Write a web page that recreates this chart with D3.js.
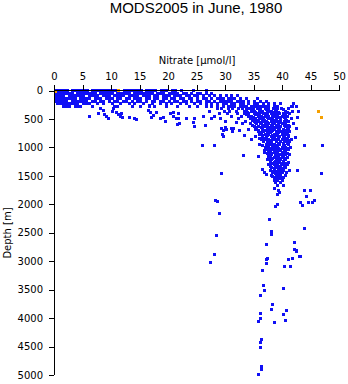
<!DOCTYPE html>
<html><head><meta charset="utf-8">
<script src="https://cdn.jsdelivr.net/npm/d3@7"></script>
<style>
html,body{margin:0;padding:0;background:#fff;}
svg{display:block;}
text{fill:#000;}
</style></head>
<body>
<svg id="c" width="348" height="384"></svg>
<script>
// ---- data ----
const title = "MODS2005 in June, 1980";
const xLabel = "Nitrate [\u00b5mol/l]";
const yLabel = "Depth [m]";
const xTicks = [0,5,10,15,20,25,30,35,40,45,50];
const yTicks = [0,500,1000,1500,2000,2500,3000,3500,4000,4500,5000];

// surface band: [depth, nitrate values]
const surfaceRows = [
 [5,[0.3,0.8,1.3,1.8,2.3,3.3,3.8,4.3,4.8,5.3,5.8,6.8,7.3,7.8,8.3,8.8,9.3,9.8,10.3,10.8,12.3,12.8,13.3,13.8,14.3,14.8,15.3,16.3,16.8,17.3,17.8,18.8,19.3,19.8,20.8,21.3,22.3,24.5,26.8]],
 [50,[0.2,0.7,1.2,1.7,2.2,2.7,3.2,4.2,4.7,5.2,5.7,6.2,6.7,7.2,8.2,8.7,9.2,9.7,10.2,11.2,11.7,12.2,12.7,13.2,14.2,14.7,15.2,15.7,16.2,16.7,17.2,18.2,18.7,19.2,20.2,20.7,21.2,21.7,22.7,23.2,24.2,25.2,25.7,26.7,27.7]],
 [95,[0.2,0.7,1.2,1.7,2.7,3.2,3.7,4.2,4.7,5.2,6.2,6.7,7.2,7.7,8.7,9.2,9.7,10.7,11.2,11.7,12.2,13.2,13.7,14.2,14.7,15.7,16.2,16.7,17.7,18.2,19.2,19.7,20.2,21.2,21.7,22.2,23.2,23.7,24.7,25.2,26.2,27.2,28.2,29.2,30.2,31.2,32.2]],
 [140,[0.2,0.7,1.2,1.7,2.2,2.7,3.2,3.7,4.7,5.2,5.7,6.2,7.2,7.7,8.2,9.2,9.7,10.2,11.2,11.7,12.7,13.2,14.2,14.7,15.2,16.2,16.7,17.7,18.2,19.2,19.7,20.7,21.2,22.2,22.7,23.7,24.2,25.2,26.2,26.7,27.7,28.7,29.2,29.7,30.7,31.2,31.7,32.7,33.7,35.7]],
 [185,[0.2,0.7,1.2,1.7,2.2,3.2,3.7,4.2,4.7,5.2,5.7,6.7,7.2,8.2,8.7,9.7,10.7,11.2,12.2,12.7,13.7,14.7,15.2,16.2,17.2,17.7,18.7,19.2,20.2,21.2,21.7,22.7,23.2,24.2,25.2,25.7,26.7,27.2,28.2,29.2,29.7,30.2,30.7,31.2,32.2,32.7,33.2,34.2,35.2,36.2,37.2]],
 [230,[0.7,1.2,1.7,2.2,2.7,3.2,3.7,4.2,5.2,5.7,6.2,7.7,8.7,10.2,11.7,13.2,14.2,15.7,17.2,18.7,19.7,20.7,22.2,23.2,24.7,25.7,26.7,27.7,28.7,29.7,30.2,31.2,31.7,32.7,33.2,34.2,35.2,35.7,36.7,37.7,38.7,39.7,42.0]],
 [275,[1.7,2.2,2.7,3.7,4.2,4.7,6.7,10.7,11.2,13.7,15.2,16.7,17.7,19.7,21.7,23.7,25.2,26.7,27.7,28.7,29.7,30.7,31.2,31.7,32.7,33.2,33.7,34.7,35.2,35.7,36.2,36.7,37.2,37.7,38.7,39.2,41.8,42.6]]
];

// main deep-water column: [depth, nitrate values]
const columnRows = [
 [318,[28.6,29.4,30.6,31.3,32.4,33.1,34.1,34.6,35.7,36.2,37.1,37.6,38.5,39.2,39.9,41.1]],
 [340,[33.8,35.0,36.0,37.3,38.9,40.2]],
 [362,[27.2,29.9,30.8,32.1,33.4,34.6,35.2,36.1,36.6,37.7,38.1,39.1,40.6,41.9]],
 [385,[34.0,35.4,36.4,37.4,38.6,39.4,40.9]],
 [405,[29.1,30.4,32.2,33.5,34.1,35.1,35.6,36.7,37.2,38.2,38.7,39.6,40.2,41.4]],
 [430,[33.8,35.4,36.0,37.4,38.4,39.0,40.6]],
 [452,[28.1,31.2,32.9,34.2,34.7,35.8,36.4,37.1,37.6,38.7,39.2,40.1,40.9]],
 [475,[35.0,36.8,37.4,38.4,39.6,40.4]],
 [497,[29.2,32.4,34.4,35.4,36.1,36.6,37.7,38.2,39.1,39.7,40.7,41.6]],
 [520,[34.8,35.8,37.0,38.6,39.8,40.8]],
 [541,[30.1,33.6,35.1,35.7,36.6,37.2,38.1,39.0,39.4,40.4,41.1]],
 [565,[35.4,36.4,37.4,38.4,39.8,40.6]],
 [588,[33.1,34.4,35.6,36.2,37.1,37.7,38.6,39.4,40.1,40.7,42.1]],
 [610,[34.9,36.6,37.4,38.2,39.2,40.4,41.2]],
 [633,[35.1,35.9,36.9,37.4,38.4,39.1,39.7,40.6,41.4]],
 [655,[35.6,36.4,37.9,38.8,39.4,40.9]],
 [679,[34.1,35.4,36.6,37.4,38.1,38.7,39.6,40.2,41.1]],
 [700,[35.8,36.9,37.8,38.4,39.4,40.6]],
 [722,[35.9,36.7,37.6,38.2,39.1,39.7,40.6,41.4]],
 [745,[36.4,37.4,38.0,39.4,40.2,41.0]],
 [768,[36.1,37.1,37.7,38.6,39.2,40.1,40.7]],
 [790,[36.6,37.4,38.3,39.0,40.4,41.2]],
 [812,[35.4,36.6,37.2,38.1,38.7,39.6,40.2,41.2]],
 [835,[36.0,36.9,38.4,39.4,40.6]],
 [858,[36.4,37.1,37.7,38.6,39.2,40.1,40.9,41.6]],
 [880,[36.8,37.4,38.2,39.0,40.4,41.2]],
 [903,[36.7,37.6,38.2,39.1,39.7,40.6,41.4]],
 [925,[37.4,38.0,39.4,40.2,40.9]],
 [948,[36.1,37.2,38.1,38.7,39.6,40.2,41.1]],
 [970,[36.6,37.6,38.4,39.0,40.4]],
 [993,[37.1,37.7,38.6,39.2,40.1,40.7,41.5]],
 [1015,[37.6,38.2,39.4,40.2,41.0]],
 [1038,[37.4,38.4,39.1,39.7,40.6,41.2]],
 [1060,[37.0,38.0,38.8,39.5,40.4]],
 [1083,[36.9,37.7,38.6,39.2,40.1,40.7]],
 [1105,[37.4,38.2,39.0,40.3,41.0]],
 [1128,[37.6,38.2,39.1,39.7,40.6,41.4]],
 [1150,[38.0,38.9,39.4,40.3]],
 [1174,[37.7,38.6,39.2,40.1,40.9]],
 [1196,[37.9,38.4,39.5,40.4]],
 [1218,[37.4,38.2,39.1,39.7,40.6]],
 [1240,[38.0,38.9,39.4,40.3]],
 [1263,[37.9,38.7,39.6,40.2,41.2]],
 [1285,[38.2,39.0,39.9,40.6]],
 [1308,[37.7,38.6,39.2,40.1,40.9]],
 [1330,[38.0,38.8,39.5,40.4]],
 [1353,[38.2,39.1,39.7,40.6]],
 [1375,[38.6,39.4,40.0]],
 [1398,[37.9,38.7,39.6,40.2,41.3]],
 [1420,[38.4,39.0,39.8]],
 [1443,[38.4,39.2,40.1,40.8]],
 [1465,[38.8,39.6]],
 [1488,[38.2,39.1,39.7,40.7]],
 [1510,[38.4,39.4]],
 [1533,[38.7,39.6,40.3]],
 [1555,[39.0,39.8]],
 [1578,[38.6,39.2,40.1]],
 [1600,[38.8]],
 [1623,[38.9,39.7]],
 [1668,[39.2,40.2]],
 [1715,[38.7]]
];

// scattered intermediate points [nitrate, depth]
const midPoints = [
 [6.2,452],[7.8,410],[8.1,313],[8.7,352],[8.9,422],[9.2,452],[9.5,487],[10.4,322],[10.2,374],[11.0,392],[11.3,422],[11.9,410],[11.6,452],[12.1,480],[13.3,480],[14.2,498],[14.5,510],[16.5,352],[16.8,264],[17.0,380],[17.5,434],[18.0,392],[17.1,470],[18.6,487],[19.2,480],[19.5,540],[20.4,410],[20.9,393],[20.9,463],[21.5,492],[21.8,410],[21.8,498],[21.7,597],[22.1,586],[23.3,487],[24.7,487],[26.2,452],[24.4,569],[27.7,487],[24.7,640],[26.5,616],[29.4,663],[30.0,646],[31.5,663],[32.0,569],[29.7,698],[30.3,681],[31.1,674],[31.3,727],[32.6,698],[33.4,786],[29.6,775],[29.7,815],[34.6,857],[26.0,968],[28.2,968],[33.2,1144],[35.8,1167],[29.4,1455],[36.5,1390],[36.9,1438],[37.3,1479],[42.6,276],[41.7,276],[42.9,364],[42.8,480],[42.6,669],[41.1,803],[42.3,832],[43.9,968],[47.1,968],[42.8,1403],[47.0,1467]
];

// deep points [nitrate, depth]
const deepPoints = [
 [39.4,1761],[39.6,1790],[39.2,1836],[43.9,1761],[44.3,1860],[45.0,1761],[45.7,1937],[45.3,1977],[44.7,1977],[43.3,1977],[43.6,2025],[39.2,1995],[38.9,2036],[37.8,2271],[38.2,2477],[38.1,2523],[43.9,2430],[42.2,2664],[37.2,2711],[42.2,2799],[42.6,2822],[43.1,2910],[37.4,2958],[28.4,1931],[28.7,1948],[29.0,2153],[28.5,2541],[28.1,2875],[27.4,3016],[42.6,2817],[37.3,2963],[37.3,3034],[41.1,2963],[41.8,2946],[43.2,2910],[40.4,3087],[41.5,3093],[36.5,3157],[36.7,3433],[36.9,3516],[40.3,3486],[36.2,3597],[38.3,3762],[38.1,3843],[40.8,3873],[36.2,3914],[40.3,3931],[36.2,4009],[35.8,4055],[40.6,4037],[38.7,4079],[36.4,4384],[36.2,4424],[36.2,4512],[36.4,4854],[36.4,4912],[35.8,4997]
];

// flagged (orange) points [nitrate, depth]
const flaggedPoints = [[0.2,20],[11.3,5],[46.4,375],[47.0,480]];

// ---- drawing ----
const svg = d3.select("#c");
const font = "'DejaVu Sans', sans-serif";
const x = d3.scaleLinear().domain([0,50]).range([54,339]);
const y = d3.scaleLinear().domain([0,5000]).range([90.5,375]);

const blue = [];
surfaceRows.forEach(([d,vals]) => vals.forEach(v => blue.push([v,d])));
columnRows.forEach(([d,vals]) => vals.forEach(v => blue.push([v,d])));
midPoints.forEach(p => blue.push(p));
deepPoints.forEach(p => blue.push(p));

const g = svg.append("g").attr("shape-rendering","crispEdges");
g.selectAll("rect.b").data(blue).enter().append("rect")
 .attr("class","b")
 .attr("x", d => Math.round(x(d[0]) - 1.5))
 .attr("y", d => Math.round(y(d[1]) - 1.5))
 .attr("width",3).attr("height",3).attr("fill","#1010f5");
g.selectAll("rect.o").data(flaggedPoints).enter().append("rect")
 .attr("class","o")
 .attr("x", d => Math.round(x(d[0]) - 1.5))
 .attr("y", d => Math.round(y(d[1]) - 1.5))
 .attr("width",3).attr("height",3).attr("fill","#f5a000");

// axes
const xAxis = d3.axisTop(x).tickValues(xTicks).tickFormat(d3.format("d")).tickSize(5).tickPadding(5).tickSizeOuter(0);
const gx = svg.append("g").attr("transform","translate(0,90)").call(xAxis);
const yAxis = d3.axisLeft(y).tickValues(yTicks).tickFormat(d3.format("d")).tickSize(5).tickPadding(6).tickSizeOuter(0);
const gy = svg.append("g").attr("transform","translate(54,0)").call(yAxis);
[gx,gy].forEach(ax => {
  ax.attr("shape-rendering","crispEdges");
  ax.select(".domain").attr("stroke","#000");
  ax.selectAll(".tick line").attr("stroke","#000");
  ax.selectAll(".tick text").attr("font-family",font).attr("font-size","10px").attr("fill","#000");
});
gy.select(".domain").attr("d","M0.5,90V375");

svg.append("text").attr("x",196).attr("y",12.5).attr("text-anchor","middle")
 .attr("font-family","'Liberation Sans', Arial, sans-serif").attr("font-size","15px").text(title);
svg.append("text").attr("x",197).attr("y",64).attr("text-anchor","middle")
 .attr("font-family",font).attr("font-size","10px").text(xLabel);
svg.append("text").attr("transform","translate(10.5,233) rotate(-90)").attr("text-anchor","middle")
 .attr("font-family",font).attr("font-size","10px").text(yLabel);
</script>
</body></html>
